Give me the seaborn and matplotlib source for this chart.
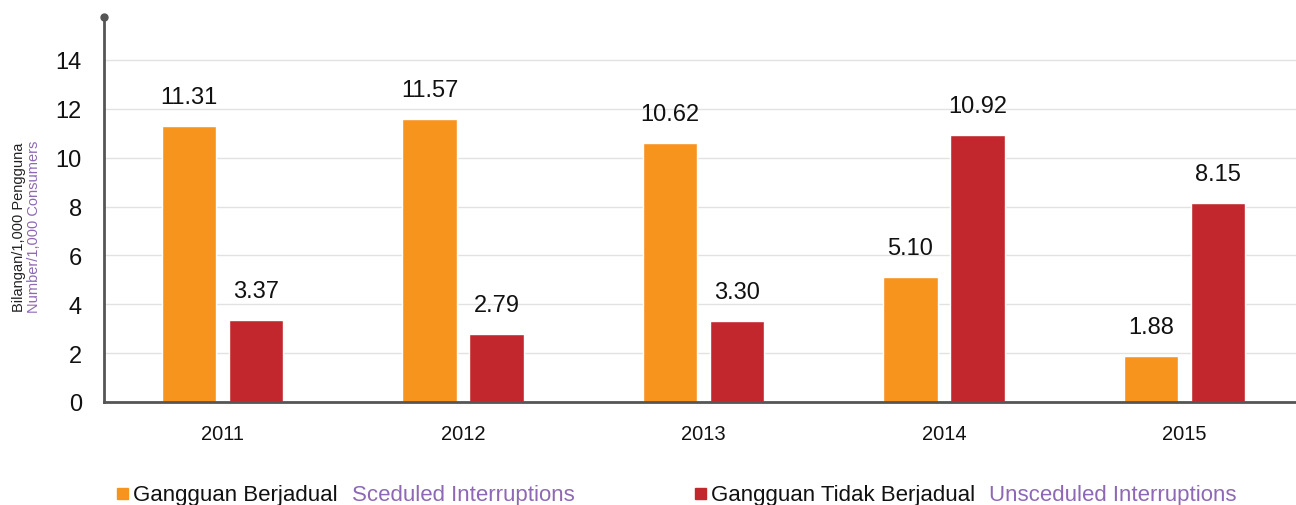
import matplotlib
matplotlib.use("Agg")
import matplotlib.pyplot as plt
import seaborn as sns
import pandas as pd
from matplotlib.patches import Rectangle

years = ["2011", "2012", "2013", "2014", "2015"]
scheduled = [11.31, 11.57, 10.62, 5.10, 1.88]
unscheduled = [3.37, 2.79, 3.30, 10.92, 8.15]

series_names = ["Gangguan Berjadual", "Gangguan Tidak Berjadual"]
series_en = ["Sceduled Interruptions", "Unsceduled Interruptions"]
colors = ["#F7941D", "#C1272D"]
purple = "#8E68B4"
ytick_values = [0, 2, 4, 6, 8, 10, 12, 14]

df = pd.DataFrame({
    "year": years * 2,
    "value": scheduled + unscheduled,
    "series": [series_names[0]] * len(years) + [series_names[1]] * len(years),
})

sns.set_theme(style="white")
plt.rcParams["font.family"] = ["Liberation Sans", "DejaVu Sans"]

fig = plt.figure(figsize=(12.96, 5.06), dpi=100)
ax = fig.add_axes([104 / 1296, 1 - 403 / 506, 1 - 104 / 1296, (403 - 18) / 506])

sns.barplot(data=df, x="year", y="value", hue="series", hue_order=series_names,
            palette=colors, width=0.557, gap=0.19, saturation=1, legend=False, ax=ax)

for cont in ax.containers:
    ax.bar_label(cont, fmt="%.2f", padding=13, fontsize=17, color="#111111")

ax.set_xlim(-0.493, 4.464)
ax.set_ylim(0, 15.76)
ax.set_yticks(ytick_values)
ax.yaxis.grid(True, color="#e2e2e2", linewidth=1)
ax.set_axisbelow(True)
ax.set_xlabel("")
ax.set_ylabel("")
ax.tick_params(axis="y", labelsize=17, pad=16, length=0, colors="#111111")
ax.tick_params(axis="x", labelsize=14.5, pad=16, length=0, colors="#111111")

for side in ["top", "right"]:
    ax.spines[side].set_visible(False)
for side in ["left", "bottom"]:
    ax.spines[side].set_color("#555555")
    ax.spines[side].set_linewidth(2)
ax.plot(0, 1, "o", color="#555555", markersize=5, transform=ax.transAxes, clip_on=False)

# y label, two languages
fig.text(19 / 1296, 1 - 227 / 506, "Bilangan/1,000 Pengguna", rotation=90,
         ha="center", va="center", fontsize=10.5, color="#222222")
fig.text(34 / 1296, 1 - 227 / 506, "Number/1,000 Consumers", rotation=90,
         ha="center", va="center", fontsize=10.5, color=purple)

# legend drawn by hand so the text can be two colours
fig.canvas.draw()
renderer = fig.canvas.get_renderer()
legend_x = [117, 695]
for i in range(2):
    x0 = legend_x[i]
    fig.patches.append(Rectangle((x0 / 1296, 1 - 500 / 506), 11 / 1296, 11 / 506,
                                 transform=fig.transFigure, color=colors[i], figure=fig))
    t = fig.text((x0 + 16) / 1296, 1 - 496 / 506, series_names[i], ha="left", va="center",
                 fontsize=16, color="#111111")
    bb = t.get_window_extent(renderer)
    fig.text((bb.x1 + 14) / 1296, 1 - 496 / 506, series_en[i], ha="left", va="center",
             fontsize=16, color=purple)

fig.savefig("out.png", dpi=100)
